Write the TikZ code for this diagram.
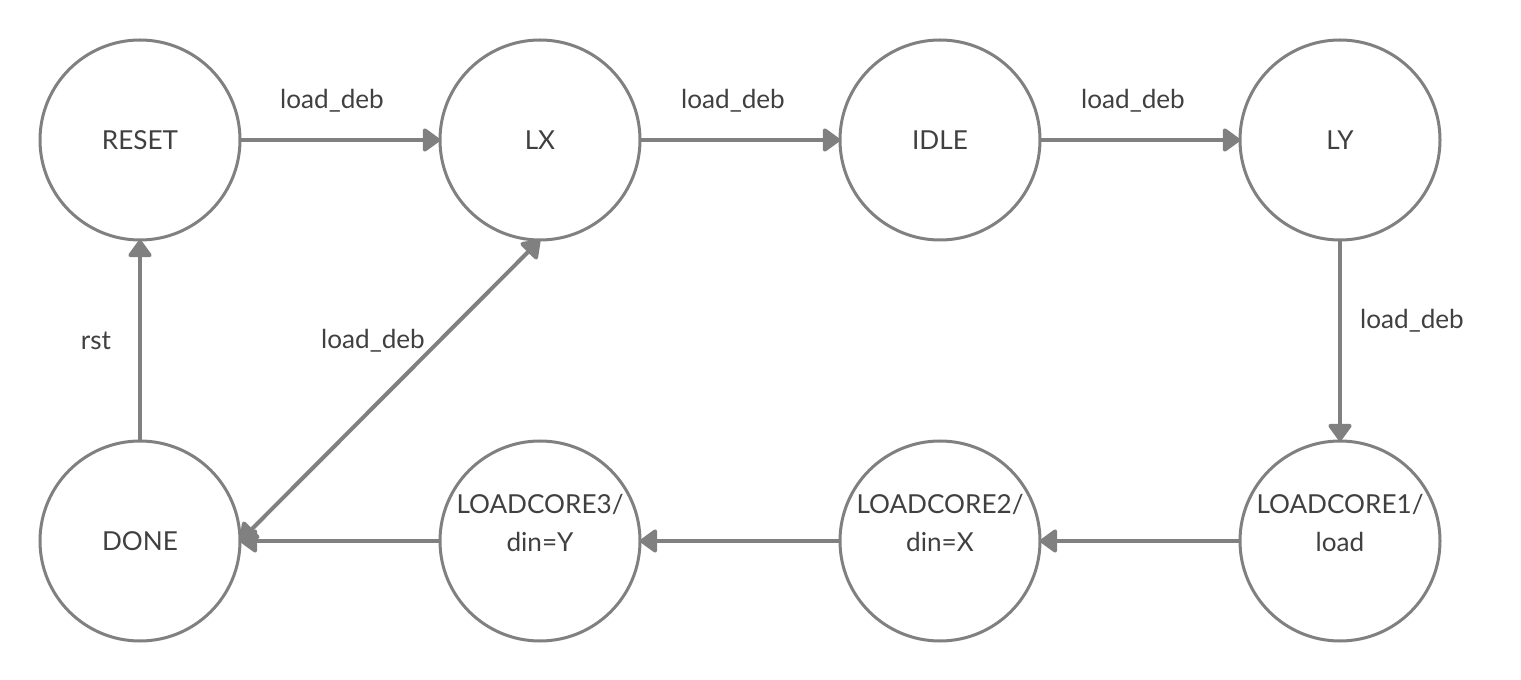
\documentclass[tikz,border=0pt]{standalone}
\usepackage{fontspec}
\setmainfont{Lato}
\usetikzlibrary{arrows.meta}
\definecolor{edge}{HTML}{808080}
\definecolor{ink}{HTML}{404040}
\begin{document}
\begin{tikzpicture}[x=0.75pt,y=-0.75pt,
  state/.style={circle,draw=edge,line width=2.25pt,minimum size=150pt,inner sep=0pt,outer sep=0pt,fill=white},
  txt/.style={text=ink,font=\fontsize{19.6}{28}\selectfont,align=center,inner sep=0pt},
  conn/.style={draw=edge,line width=3pt,-{Triangle[length=14pt,width=19.5pt,round]}},
  both/.style={draw=edge,line width=3pt,{Triangle[length=14pt,width=19.5pt,round]}-{Triangle[length=14pt,width=19.5pt,round]}}]
\useasboundingbox (0,0) rectangle (1521,680);
\fill[white] (0,0) rectangle (1521,680);
\node[state] (reset) at (140,140) {};
\node[state] (lx) at (540,140) {};
\node[state] (idle) at (940,140) {};
\node[state] (ly) at (1340,140) {};
\node[state] (done) at (140,541) {};
\node[state] (lc3) at (540,541) {};
\node[state] (lc2) at (940,541) {};
\node[state] (lc1) at (1340,541) {};
\node[txt] (treset) at (reset) {RESET};
\node[txt] (tlx) at (lx) {LX};
\node[txt] (tidle) at (idle) {IDLE};
\node[txt] (tly) at (ly) {LY};
\node[txt] (tdone) at (done) {DONE};
\node[txt] (tlc3) at (540,523) {LOADCORE3/\\din=Y};
\node[txt] (tlc2) at (940,523) {LOADCORE2/\\din=X};
\node[txt] (tlc1) at (1340,523) {LOADCORE1/\\load};
\draw[conn] (reset) -- (lx);
\draw[conn] (lx) -- (idle);
\draw[conn] (idle) -- (ly);
\draw[conn] (ly) -- (lc1);
\draw[conn] (lc1) -- (lc2);
\draw[conn] (lc2) -- (lc3);
\draw[conn] (lc3) -- (done);
\draw[conn] (done) -- (reset);
\draw[both] (done.east) -- (lx.south);
\node[txt] (l1) at (332,101) {load\_deb};
\node[txt] (l2) at (733,101) {load\_deb};
\node[txt] (l3) at (1133,101) {load\_deb};
\node[txt] (l4) at (1412,321) {load\_deb};
\node[txt] (l5) at (96,341) {rst};
\node[txt] (l6) at (373,341) {load\_deb};
\end{tikzpicture}
\end{document}
